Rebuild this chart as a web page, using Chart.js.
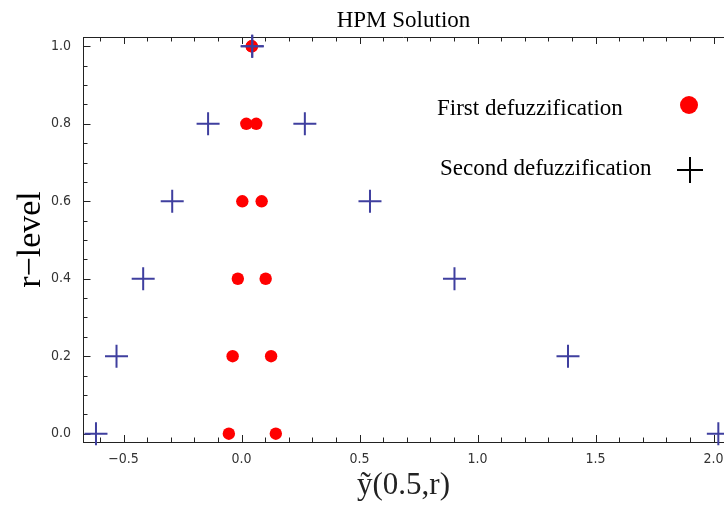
<!DOCTYPE html>
<html>
<head>
<meta charset="utf-8">
<script src="https://cdn.jsdelivr.net/npm/chart.js@4/dist/chart.umd.min.js"></script>
<style>
  html, body { margin: 0; padding: 0; background: #ffffff; overflow: hidden; }
  #wrap { width: 724px; height: 508px; position: relative; }
</style>
</head>
<body>
<div id="wrap"><canvas id="c" width="724" height="508"></canvas></div>
<script>
// ---- data ----
const rLevels      = [0, 0.2, 0.4, 0.6, 0.8, 1.0];
const firstLower   = [-0.054, -0.038, -0.016, 0.003, 0.020, 0.043];
const firstUpper   = [0.145, 0.125, 0.102, 0.085, 0.062, 0.043];
const secondLower  = [-0.617, -0.530, -0.417, -0.294, -0.142, 0.045];
const secondUpper  = [2.020, 1.383, 0.902, 0.544, 0.268, 0.045];
const xMajorTicks  = [-0.5, 0.0, 0.5, 1.0, 1.5, 2.0];
const yMajorTicks  = [0.0, 0.2, 0.4, 0.6, 0.8, 1.0];
const legendLabels = ['First defuzzification', 'Second defuzzification'];
const titleText    = 'HPM Solution';
const xTitle       = 'ỹ(0.5,r)';
const yTitle       = 'r\u2212level';

const firstPts = [];
rLevels.forEach((r, i) => { firstPts.push({x: firstLower[i], y: r}); firstPts.push({x: firstUpper[i], y: r}); });
const secondPts = [];
rLevels.forEach((r, i) => { secondPts.push({x: secondLower[i], y: r}); secondPts.push({x: secondUpper[i], y: r}); });

const isMajor = (v, list) => list.some(m => Math.abs(m - v) < 1e-6);
const fmt = v => (Math.abs(v) < 1e-9 ? '0.0' : v.toFixed(1).replace('-', '\u2212'));

function stepTicks(min, max, step) {
  const out = [];
  const n0 = Math.ceil(min / step - 1e-9), n1 = Math.floor(max / step + 1e-9);
  for (let n = n0; n <= n1; n++) out.push({value: Math.round(n * step * 1000) / 1000});
  return out;
}

const framePlugin = {
  id: 'frameTicks',
  beforeDatasetsDraw(chart) {
    const {ctx, chartArea: a, scales: {x, y}} = chart;
    ctx.save();
    ctx.strokeStyle = '#222222';
    ctx.lineWidth = 1;
    ctx.beginPath();
    ctx.moveTo(a.left, a.top + 0.5); ctx.lineTo(a.right, a.top + 0.5);
    x.ticks.forEach(t => {
      const px = Math.round(x.getPixelForValue(t.value)) + 0.5;
      const len = isMajor(t.value, xMajorTicks) ? 7 : 4.5;
      ctx.moveTo(px, a.bottom); ctx.lineTo(px, a.bottom - len);
      ctx.moveTo(px, a.top); ctx.lineTo(px, a.top + len);
    });
    y.ticks.forEach(t => {
      const py = Math.round(y.getPixelForValue(t.value)) + 0.5;
      const len = isMajor(t.value, yMajorTicks) ? 7.5 : 4.5;
      ctx.moveTo(a.left, py); ctx.lineTo(a.left + len, py);
    });
    ctx.stroke();
    ctx.restore();
  },
  afterDraw(chart) {
    const {ctx, chartArea: a} = chart;
    ctx.save();
    ctx.fillStyle = '#000000';
    ctx.font = '23px "Liberation Serif", "Times New Roman", serif';
    ctx.textBaseline = 'alphabetic';
    ctx.textAlign = 'left';
    ctx.fillText(legendLabels[0], a.left + 354, a.top + 78);
    ctx.fillText(legendLabels[1], a.left + 357, a.top + 138);
    // markers
    ctx.fillStyle = '#ff0000';
    ctx.beginPath();
    ctx.arc(a.left + 606, a.top + 68, 9, 0, Math.PI * 2);
    ctx.fill();
    ctx.strokeStyle = '#000000';
    ctx.lineWidth = 2;
    const cx = a.left + 607, cy = a.top + 133;
    ctx.beginPath();
    ctx.moveTo(cx - 13, cy); ctx.lineTo(cx + 13, cy);
    ctx.moveTo(cx, cy - 13); ctx.lineTo(cx, cy + 13);
    ctx.stroke();
    ctx.restore();
  }
};

const tickFont = {family: '"DejaVu Sans Condensed", "Liberation Sans Narrow", sans-serif', size: 14};

new Chart(document.getElementById('c'), {
  type: 'scatter',
  data: {
    datasets: [
      {
        label: legendLabels[1],
        data: secondPts,
        pointStyle: 'cross',
        pointRadius: 11.5,
        pointHoverRadius: 11.5,
        borderColor: '#3f3f9f',
        backgroundColor: '#3f3f9f',
        pointBorderWidth: 2,
        clip: false,
        order: 0
      },
      {
        label: legendLabels[0],
        data: firstPts,
        pointStyle: 'circle',
        pointRadius: 6.2,
        pointHoverRadius: 6.2,
        borderColor: '#ff0000',
        backgroundColor: '#ff0000',
        pointBorderWidth: 0,
        clip: false,
        order: 1
      }
    ]
  },
  plugins: [framePlugin],
  options: {
    responsive: false,
    animation: false,
    events: [],
    layout: {autoPadding: false, padding: {left: 0, right: 0, top: 0, bottom: 0}},
    plugins: {
      legend: {display: false},
      tooltip: {enabled: false},
      title: {
        display: true,
        text: titleText,
        fullSize: false,
        color: '#000000',
        font: {family: '"Liberation Serif", "Times New Roman", serif', size: 23, weight: 'normal', lineHeight: 1.2},
        padding: {top: 7, bottom: 2.4}
      }
    },
    scales: {
      x: {
        type: 'linear',
        position: 'bottom',
        min: -0.672,
        max: 2.044,
        afterBuildTicks: s => { s.ticks = stepTicks(-0.672, 2.044, 0.1); },
        afterFit: s => { s.height = 66; s.paddingLeft = 0; s.paddingRight = 0; },
        grid: {display: false, drawTicks: false},
        border: {display: true, color: '#222222', width: 1},
        ticks: {
          autoSkip: false,
          maxRotation: 0,
          padding: 9,
          color: '#333333',
          font: tickFont,
          callback: v => isMajor(v, xMajorTicks) ? fmt(v) : ''
        },
        title: {
          display: true,
          text: xTitle,
          color: '#222222',
          font: {family: '"Liberation Serif", "Times New Roman", serif', size: 31, lineHeight: 1.2},
          padding: {top: 0, bottom: 4}
        }
      },
      y: {
        type: 'linear',
        position: 'left',
        min: -0.0214,
        max: 1.024,
        afterBuildTicks: s => { s.ticks = stepTicks(-0.0214, 1.024, 0.05); },
        afterFit: s => { s.width = 83; s.paddingTop = 0; s.paddingBottom = 0; },
        grid: {display: false, drawTicks: false},
        border: {display: true, color: '#222222', width: 1},
        ticks: {
          autoSkip: false,
          padding: 12,
          color: '#333333',
          font: tickFont,
          callback: v => isMajor(v, yMajorTicks) ? fmt(v) : ''
        },
        title: {
          display: true,
          text: yTitle,
          color: '#000000',
          font: {family: '"Liberation Serif", "Times New Roman", serif', size: 34, lineHeight: 1.2},
          padding: {top: 11, bottom: 0}
        }
      }
    }
  }
});
</script>
</body>
</html>
